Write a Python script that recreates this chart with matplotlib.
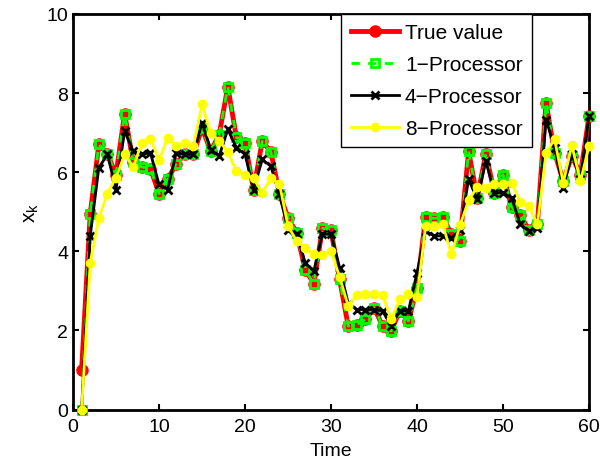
import numpy as np
import matplotlib
matplotlib.use('Agg')
from matplotlib import pyplot as plt

### Data
time = np.arange(1, 61)

true_value = [1.00, 4.95, 6.70, 6.46, 5.94, 7.48, 6.25, 6.13, 6.09, 5.46,
              5.82, 6.21, 6.45, 6.45, 7.12, 6.53, 6.95, 8.16, 6.88, 6.74,
              5.56, 6.78, 6.52, 5.45, 4.85, 4.47, 3.54, 3.18, 4.58, 4.53,
              3.29, 2.11, 2.15, 2.28, 2.58, 2.11, 1.99, 2.50, 2.24, 3.08,
              4.87, 4.83, 4.87, 4.43, 4.26, 6.53, 5.35, 6.47, 5.48, 5.94,
              5.12, 4.93, 4.53, 4.70, 7.75, 6.49, 5.77, 6.41, 5.94, 7.42]

proc1 = [0.00, 4.95, 6.70, 6.46, 5.94, 7.48, 6.25, 6.13, 6.09, 5.46,
         5.82, 6.21, 6.45, 6.45, 7.12, 6.53, 6.95, 8.16, 6.88, 6.74,
         5.56, 6.78, 6.52, 5.45, 4.85, 4.47, 3.54, 3.18, 4.58, 4.53,
         3.29, 2.11, 2.15, 2.28, 2.58, 2.11, 1.99, 2.50, 2.24, 3.08,
         4.87, 4.83, 4.87, 4.43, 4.26, 6.53, 5.35, 6.47, 5.48, 5.94,
         5.12, 4.93, 4.53, 4.70, 7.75, 6.49, 5.77, 6.41, 5.94, 7.42]

proc4 = [0.00, 4.39, 6.11, 6.45, 5.56, 7.04, 6.53, 6.45, 6.49, 5.69,
         5.56, 6.49, 6.45, 6.45, 7.25, 6.57, 6.41, 7.08, 6.62, 6.45,
         5.56, 6.32, 6.15, 5.45, 4.55, 4.43, 3.71, 3.50, 4.44, 4.43,
         3.59, 2.68, 2.53, 2.53, 2.53, 2.49, 2.11, 2.50, 2.49, 3.46,
         4.51, 4.39, 4.39, 4.34, 4.53, 5.82, 5.31, 6.28, 5.48, 5.48,
         5.35, 4.68, 4.51, 4.60, 7.33, 6.62, 5.61, 6.45, 5.82, 7.42]

proc8 = [0.00, 3.71, 4.83, 5.46, 5.86, 6.45, 6.13, 6.74, 6.85, 6.30,
         6.87, 6.66, 6.74, 6.66, 7.71, 7.00, 6.78, 6.52, 6.02, 5.94,
         5.84, 5.48, 5.84, 5.71, 4.64, 4.26, 4.09, 3.92, 3.90, 4.02,
         3.35, 2.62, 2.90, 2.93, 2.91, 2.90, 2.28, 2.79, 2.91, 2.85,
         4.64, 4.64, 4.68, 3.92, 4.66, 5.29, 5.62, 5.61, 5.69, 5.69,
         5.73, 5.25, 5.14, 4.68, 6.49, 6.83, 5.73, 6.68, 5.77, 6.66]

labels = ['True value', '1\u2212Processor', '4\u2212Processor', '8\u2212Processor']

# ----------------------------------------------------------------------------

plt.rcParams['font.family'] = ['Liberation Sans', 'DejaVu Sans']
plt.rcParams['mathtext.fontset'] = 'custom'
plt.rcParams['mathtext.rm'] = 'Liberation Sans'
plt.rcParams['font.size'] = 14

fig = plt.figure(figsize=(6.0, 4.64), dpi=100)
ax = fig.add_axes([0.1217, 0.115, 0.86, 0.853])

ax.plot(time, true_value, color='red', lw=3.5, marker='o', ms=8,
        mec='red', mfc='red', label=labels[0], clip_on=False)
ax.plot(time, proc1, color='#00ff00', lw=2, ls=(0, (3, 3)), marker='s', ms=6,
        mec='#00ff00', mfc='none', mew=2, label=labels[1], clip_on=False)
ax.plot(time, proc4, color='black', lw=2, marker='x', ms=6, mew=2,
        label=labels[2], clip_on=False)
ax.plot(time, proc8, color='yellow', lw=2, marker='o', ms=6,
        mec='yellow', mfc='yellow', label=labels[3], clip_on=False)

ax.set_xlim(0, 60)
ax.set_ylim(0, 10)
ax.set_xticks(np.arange(0, 61, 10))
ax.set_yticks(np.arange(0, 11, 2))
ax.tick_params(direction='in', top=True, right=True, length=4, width=1.5,
               labelsize=14)
ax.tick_params(axis='x', pad=6)
for sp in ax.spines.values():
    sp.set_linewidth(2)
    sp.set_zorder(0.5)

ax.set_xlabel('Time', fontsize=14, labelpad=5)
ax.set_ylabel(r'x$_\mathregular{k}$', fontsize=15, labelpad=4)

leg = ax.legend(loc='upper left', bbox_to_anchor=(0.52, 1.0),
                borderaxespad=0, fancybox=False, framealpha=1,
                edgecolor='black', fontsize=15, handlelength=2.3,
                borderpad=0.45, labelspacing=0.62, handletextpad=0.3)
leg.get_frame().set_linewidth(1)
leg.set_zorder(5)

fig.savefig('out.png', dpi=100)
